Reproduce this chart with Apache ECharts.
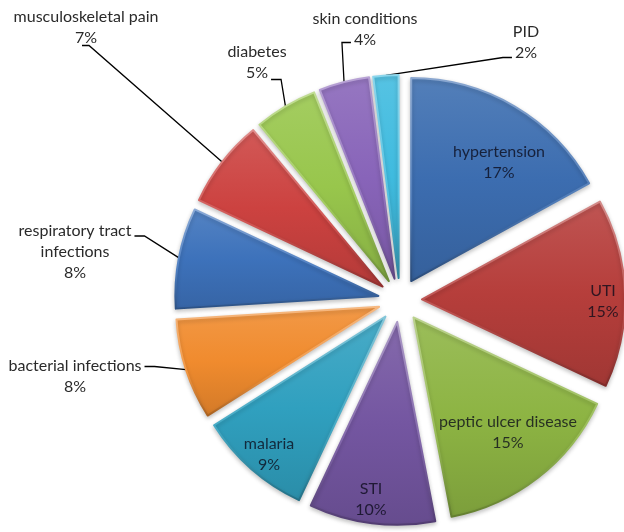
<!DOCTYPE html>
<html><head><meta charset="utf-8">
<script src="https://cdn.jsdelivr.net/npm/echarts@6/dist/echarts.min.js"></script>
<style>html,body{margin:0;padding:0;background:#fff}#c{width:624px;height:532px}</style>
</head><body><div id="c"></div>
<script>
// ---- data ----
const categories = ['hypertension','UTI','peptic ulcer disease','STI','malaria','bacterial infections','respiratory tract infections','musculoskeletal pain','diabetes','skin conditions','PID'];
const values = [17,15,15,10,9,8,8,7,5,4,2];
const insideLabels = [true,true,true,true,true,false,false,false,false,false,false];

// ---- styles / layout ----
const baseColors = ['#3c6db0','#b63e3b','#8db443','#7456a1','#30a0bf','#f08b2e','#3d72bb','#cc4240','#98c64c','#8864b9','#3fbbdf'];
const labelPos = [[499,162],[603,301],[508,432],[371,499],[269,454],[75,376],[75,252],[86,27],[257,62],[365,29],[526,42]];
// where the leader line meets each outside label: [side, line index (0 first / -1 last), dy]
const lineAttach = [null,null,null,null,null,['right',0,1],['right',0,5],['bottom',-1,8],['right',-1,7],['left',-1,3],['left',-1,5]];
const CX = 400, CY = 300, R = 203, EXPLODE = 22;
const FONT = '16px Lato', LH = 21;

function shade(hex, f) {
  const n = parseInt(hex.slice(1), 16);
  let r = (n >> 16) & 255, g = (n >> 8) & 255, b = n & 255;
  if (f < 0) { r *= 1 + f; g *= 1 + f; b *= 1 + f; }
  else { r += (255 - r) * f; g += (255 - g) * f; b += (255 - b) * f; }
  return 'rgb(' + Math.round(r) + ',' + Math.round(g) + ',' + Math.round(b) + ')';
}
function fill(c) {
  return { type: 'linear', x: 0, y: 0, x2: 0, y2: 1,
    colorStops: [{ offset: 0, color: shade(c, 0.12) }, { offset: 0.5, color: c }, { offset: 1, color: shade(c, -0.12) }] };
}
function edge(c) {
  return { type: 'linear', x: 0, y: 0, x2: 0, y2: 1,
    colorStops: [{ offset: 0, color: shade(c, 0.4) }, { offset: 0.6, color: shade(c, 0.1) }, { offset: 1, color: shade(c, -0.3) }] };
}
function labelText(name, v) {
  const n = name === 'respiratory tract infections' ? 'respiratory tract\ninfections' : name;
  return n + '\n' + v + '%';
}
const mctx = document.createElement('canvas').getContext('2d');
mctx.font = FONT;

const chart = echarts.init(document.getElementById('c'), null, { renderer: 'canvas' });
chart.setOption({
  animation: false,
  backgroundColor: '#fff',
  series: [{
    // exploded slices
    type: 'pie',
    center: [CX, CY],
    radius: [0, R],
    startAngle: 90,
    clockwise: true,
    selectedMode: 'multiple',
    selectedOffset: EXPLODE,
    emphasis: { disabled: true },
    silent: true,
    label: { show: false },
    labelLine: { show: false },
    data: categories.map((n, i) => ({
      name: n,
      value: values[i],
      selected: true,
      itemStyle: {
        color: fill(baseColors[i]),
        borderColor: edge(baseColors[i]),
        borderWidth: 2,
        borderJoin: 'round',
        shadowColor: 'rgba(0,0,0,0.22)', shadowBlur: 4, shadowOffsetY: 2
      }
    }))
  }, {
    // label carrier (same angles, transparent)
    type: 'pie',
    center: [CX, CY],
    radius: [0, R + EXPLODE],
    startAngle: 90,
    clockwise: true,
    avoidLabelOverlap: false,
    emphasis: { disabled: true },
    silent: true,
    itemStyle: { color: 'rgba(0,0,0,0)', borderWidth: 0 },
    label: {
      show: true,
      fontFamily: 'Lato',
      fontSize: 16,
      lineHeight: LH,
      color: '#2a2a2a',
      formatter: p => labelText(p.name, p.value)
    },
    labelLine: { show: true, length: 10, length2: 8, smooth: false, lineStyle: { color: '#000', width: 1.3 } },
    labelLayout: p => {
      const i = p.dataIndex;
      const [x, y] = labelPos[i];
      const out = { x: x, y: y, align: 'center', verticalAlign: 'middle' };
      const at = lineAttach[i];
      if (at && p.labelLinePoints) {
        const lines = labelText(categories[i], values[i]).split('\n');
        const k = at[1] < 0 ? lines.length - 1 : at[1];
        const w = mctx.measureText(lines[k]).width;
        const ly = y - (lines.length - 1) * LH / 2 + k * LH + at[2];
        const anchor = p.labelLinePoints[0];
        let end, elbow;
        if (at[0] === 'right') { end = [x + w / 2 + 3, ly]; elbow = [end[0] + 10, ly]; }
        else if (at[0] === 'left') { end = [x - w / 2 - 3, ly]; elbow = [end[0] - 9, ly]; }
        else { end = [x - 4, ly]; elbow = [x + 3, ly]; }
        out.labelLinePoints = [anchor, elbow, end];
      }
      return out;
    },
    data: categories.map((n, i) => ({
      name: n,
      value: values[i],
      label: insideLabels[i] ? { position: 'inside', color: 'rgba(10,10,25,0.78)' } : { position: 'outside' },
      labelLine: { show: !insideLabels[i] }
    }))
  }]
});
</script></body></html>
